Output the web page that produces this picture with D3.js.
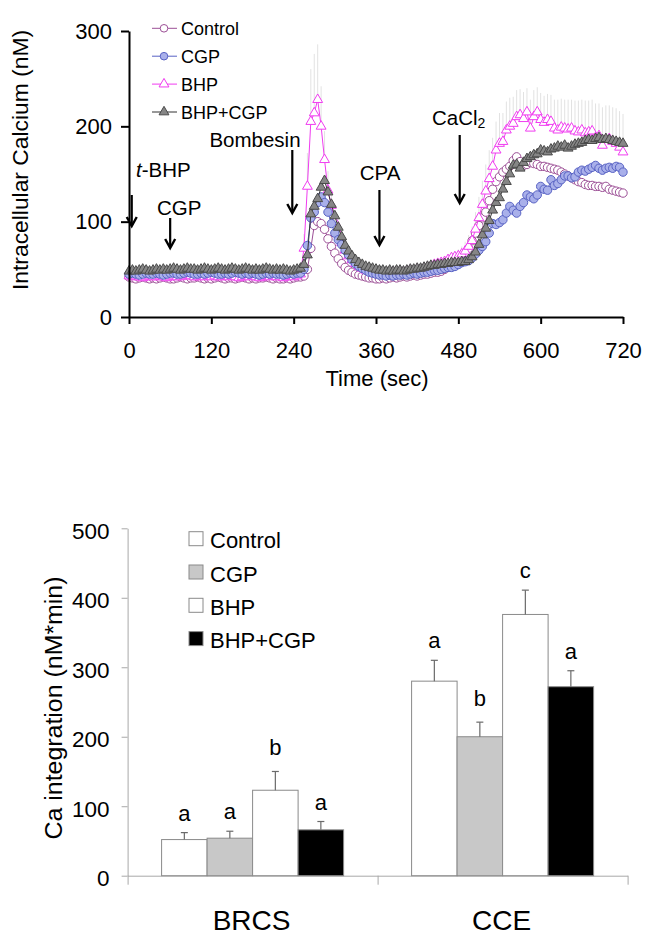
<!DOCTYPE html>
<html><head><meta charset="utf-8">
<script src="https://cdn.jsdelivr.net/npm/d3@7"></script>
<style>
body{margin:0;background:#fff;}
svg text{font-family:"Liberation Sans",Arial,Helvetica,sans-serif;fill:#000;}
</style>
</head><body>
<svg id="c" width="653" height="941"></svg>
<script>
// ---------------- DATA: time course (sampled every 5 s, 0..720 s) ----------------
const seriesNames = ["Control", "CGP", "BHP", "BHP+CGP"];
const sampleStep = 5;
const timeTicks = [0, 120, 240, 360, 480, 600, 720];
const calciumTicks = [0, 100, 200, 300];

const controlCa = [
42,41,40,41,42,41,40,41,40,41, 42,41,40,40,41,42,41,40,41,41,
42,41,40,41,40,41,42,41,40,41, 41,40,41,42,41,40,41,40,41,41,
42,41,40,41,40,40,41,40,41,42,
42,43,50,72,96,100,98,92,82,74,
67,61,56,52,49,47,45,44,43,42,
41,41,40,40,41,40,41,42,41,42,
43,42,43,44,43,44,45,45,46,47,
47,48,50,52,54,57,60,63,66,72,
80,88,96,104,110,122,134,142,147,152,
155,158,164,168,163,159,160,162,161,160,
158,158,157,156,155,154,152,150,148,146,
144,142,141,139,138,138,137,137,136,137,
134,133,132,131,130];

const cgpCa = [
45,46,45,44,45,46,45,45,46,45, 44,45,46,46,45,45,46,47,46,45,
45,46,45,46,47,46,45,45,46,45, 46,47,46,45,46,45,46,45,44,45,
46,45,46,45,45,44,45,46,45,46,
46,50,75,104,110,120,126,120,110,98,
88,81,76,70,65,60,56,53,51,49,
47,46,45,44,44,43,44,43,44,44,
45,44,45,46,45,46,47,47,48,49,
49,50,51,52,52,53,55,57,58,59,
62,66,70,74,79,88,98,97,99,102,
109,116,112,109,116,120,128,126,124,128,
137,134,133,144,138,140,144,148,148,146,
147,152,154,153,155,157,159,156,154,156,
157,156,158,157,152];

const bhpCa = [
43,42,43,42,41,42,43,42,42,43, 42,41,42,43,42,42,43,44,43,42,
42,43,42,43,42,43,42,42,43,42, 43,42,41,42,43,42,43,42,41,42,
43,42,43,42,42,41,42,43,42,43,
45,72,137,205,214,228,200,165,133,117,
100,88,78,70,64,60,56,53,51,49,
48,47,46,45,46,45,46,47,46,48,
47,48,49,48,50,49,51,52,53,55,
56,57,58,60,62,63,64,66,69,74,
80,92,104,118,132,145,158,175,182,184,
196,200,203,210,212,208,215,198,210,215,
207,204,207,205,198,196,199,198,197,198,
195,194,196,193,194,195,188,190,180,186,
187,184,182,178,173];

const bhpCgpCa = [
48,49,48,49,50,49,48,49,50,49, 50,49,50,51,50,49,50,51,50,50,
49,50,51,50,49,50,51,50,49,50, 51,50,49,50,51,50,49,50,49,50,
51,50,49,50,49,50,49,48,49,50,
51,55,65,108,116,124,136,143,131,118,
106,94,84,75,69,64,60,57,55,53,
52,51,50,49,49,48,49,48,49,49,
48,49,50,50,51,51,52,53,54,54,
55,55,56,56,57,57,57,58,58,60,
63,68,76,86,93,101,112,120,125,134,
142,150,159,160,156,162,166,168,170,171,
175,174,173,176,177,179,178,180,177,179,
181,182,183,185,186,185,187,188,186,187,
186,185,184,183,182];

// upper error (SEM) of the BHP trace
const bhpErr = [
2,2,2,2,2,2,2,2,2,2, 2,2,2,2,2,2,2,2,2,2,
2,2,2,2,2,2,2,2,2,2, 2,2,2,2,2,2,2,2,2,2,
2,2,2,2,2,2,2,2,2,2,
4,15,35,55,62,58,42,30,20,15,
12,10,8,7,6,5,5,5,4,4,
4,4,4,4,4,4,4,4,4,4,
4,4,4,4,4,4,4,4,5,5,
5,5,5,6,6,6,7,8,10,12,
15,18,22,25,28,30,30,30,32,30,
30,30,28,28,27,28,25,30,28,26,
28,28,27,28,30,32,30,30,31,30,
32,33,32,34,33,33,36,34,40,36,
35,36,37,38,40];

// treatment events (s)
const eventLabels = ["t-BHP", "CGP", "Bombesin", "CPA", "CaCl2"];
const eventTimes  = [4, 60, 238, 365, 482];

// ---------------- DATA: integration bar chart ----------------
const barCategories = ["BRCS", "CCE"];
const barGroups = ["Control", "CGP", "BHP", "BHP+CGP"];
const brcsMeans = [52, 54, 123, 66];
const brcsErr   = [10, 10, 27, 12];
const cceMeans  = [280, 200, 376, 272];
const cceErr    = [30, 21, 35, 23];
const brcsLetters = ["a", "a", "b", "a"];
const cceLetters  = ["a", "b", "c", "a"];
const integrationTicks = [0, 100, 200, 300, 400, 500];

// ---------------- drawing ----------------
const FONT = '"Liberation Sans",Arial,Helvetica,sans-serif';
const svg = d3.select("#c");

const styles = {
  "Control": {shape: "circle", fill: "#ffffff", stroke: "#9c4f96", line: "#9c4f96"},
  "CGP":     {shape: "circle", fill: "#a9b0ea", stroke: "#5862c4", line: "#5862c4"},
  "BHP":     {shape: "triangle", fill: "#ffffff", stroke: "#f03cf0", line: "#f03cf0"},
  "BHP+CGP": {shape: "triangle", fill: "#868686", stroke: "#4a4a4a", line: "#333333"}
};

// ---- top chart ----
const xT = d3.scaleLinear().domain([0, 720]).range([129, 623]);
const yT = d3.scaleLinear().domain([0, 300]).range([317, 31]);

const seriesData = [controlCa, cgpCa, bhpCa, bhpCgpCa].map(arr => arr.map((v, i) => ({t: i * sampleStep, v})));
const bhpPoints = bhpCa.map((v, i) => ({t: i * sampleStep, v, e: bhpErr[i]}));

// error bars
svg.append("g").selectAll("line").data(bhpPoints).join("line")
  .attr("x1", d => xT(d.t)).attr("x2", d => xT(d.t))
  .attr("y1", d => yT(d.v)).attr("y2", d => yT(d.v + d.e))
  .attr("stroke", "#e2e2e2").attr("stroke-width", 1);

const triSym = d3.symbol().type(d3.symbolTriangle).size(42);
const line = d3.line().x(d => xT(d.t)).y(d => yT(d.v));

function drawMarker(sel, st, r) {
  if (st.shape === "circle") {
    sel.append("circle").attr("r", r || 4.2)
      .attr("fill", st.fill).attr("stroke", st.stroke).attr("stroke-width", 1);
  } else {
    sel.append("path").attr("d", triSym)
      .attr("fill", st.fill).attr("stroke", st.stroke).attr("stroke-width", 1);
  }
}

const drawOrder = [0, 2, 1, 3];
drawOrder.forEach(k => {
  const st = styles[seriesNames[k]];
  const g = svg.append("g");
  g.append("path").datum(seriesData[k]).attr("d", line)
    .attr("fill", "none").attr("stroke", st.line).attr("stroke-width", 1);
  g.selectAll("g.m").data(seriesData[k]).join("g").attr("class", "m")
    .attr("transform", d => `translate(${xT(d.t)},${yT(d.v)})`)
    .each(function () { drawMarker(d3.select(this), st); });
});

// axes
const gxT = svg.append("g").attr("transform", "translate(0,317)")
  .call(d3.axisBottom(xT).tickValues(timeTicks).tickSize(7).tickSizeOuter(0).tickPadding(18));
const gyT = svg.append("g").attr("transform", "translate(129,0)")
  .call(d3.axisLeft(yT).tickValues(calciumTicks).tickSize(8).tickSizeOuter(0).tickPadding(9));
[gxT, gyT].forEach(g => {
  g.attr("font-family", FONT).attr("font-size", 22);
  g.select(".domain").attr("stroke", "#000").attr("stroke-width", 2);
  g.selectAll(".tick line").attr("stroke", "#000").attr("stroke-width", 2);
  g.selectAll(".tick text").attr("fill", "#000");
});

svg.append("text").attr("x", 377).attr("y", 386).attr("text-anchor", "middle")
  .attr("font-size", 22).text("Time (sec)");
svg.append("text").attr("transform", "translate(28,160) rotate(-90)").attr("text-anchor", "middle")
  .attr("font-size", 22).attr("textLength", 260).attr("lengthAdjust", "spacingAndGlyphs")
  .text("Intracellular Calcium (nM)");

// legend (top)
seriesNames.forEach((name, i) => {
  const st = styles[name];
  const y = 28.3 + i * 27.9;
  const g = svg.append("g");
  g.append("line").attr("x1", 152).attr("x2", 177).attr("y1", y).attr("y2", y)
    .attr("stroke", st.line).attr("stroke-width", 1);
  const m = g.append("g").attr("transform", `translate(164,${y})`);
  drawMarker(m, st, 3.8);
  g.append("text").attr("x", 181).attr("y", y + 6.5).attr("font-size", 18).text(name);
});

// event annotations
const annot = [
  {tx: 136, ty: 177, anchor: "start", y1: 195, y2: 226},
  {tx: 157, ty: 215, anchor: "start", y1: 218, y2: 248},
  {tx: 255, ty: 147, anchor: "middle", y1: 150, y2: 213},
  {tx: 380, ty: 180, anchor: "middle", y1: 190, y2: 245},
  {tx: 432, ty: 125, anchor: "start", y1: 135, y2: 203}
];
eventLabels.forEach((lab, i) => {
  const a = annot[i];
  const t = svg.append("text").attr("x", a.tx).attr("y", a.ty).attr("text-anchor", a.anchor).attr("font-size", 20.5);
  if (lab === "t-BHP") {
    t.append("tspan").attr("font-style", "italic").text("t");
    t.append("tspan").text("-BHP");
  } else if (lab === "CaCl2") {
    t.append("tspan").text("CaCl");
    t.append("tspan").attr("font-size", 14).attr("dy", 3).text("2");
  } else t.text(lab);
  const x = xT(eventTimes[i]);
  svg.append("line").attr("x1", x).attr("x2", x).attr("y1", a.y1).attr("y2", a.y2 - 1)
    .attr("stroke", "#000").attr("stroke-width", 2.2);
  svg.append("path").attr("d", `M${x - 5},${a.y2 - 9}L${x},${a.y2}L${x + 5},${a.y2 - 9}`)
    .attr("fill", "none").attr("stroke", "#000").attr("stroke-width", 2.4);
});

// ---- bottom chart ----
const x0 = d3.scaleBand().domain(barCategories).range([127.6, 627.6]);
const x1 = d3.scaleBand().domain(barGroups).range([0, x0.bandwidth()]).paddingOuter(0.747);
const yB = d3.scaleLinear().domain([0, 500]).range([875.7, 528.3]);
const fills = {"Control": "#ffffff", "CGP": "#c8c8c8", "BHP": "#ffffff", "BHP+CGP": "#000000"};

const barData = [];
barCategories.forEach((c, ci) => {
  const means = ci === 0 ? brcsMeans : cceMeans;
  const errs = ci === 0 ? brcsErr : cceErr;
  const lets = ci === 0 ? brcsLetters : cceLetters;
  barGroups.forEach((g, gi) => barData.push({c, g, v: means[gi], e: errs[gi], l: lets[gi]}));
});

// axes
const gyB = svg.append("g").attr("transform", "translate(127.6,0)")
  .call(d3.axisLeft(yB).tickValues(integrationTicks).tickSize(6).tickSizeOuter(0).tickPadding(12));
gyB.attr("font-family", FONT).attr("font-size", 22.5);
gyB.select(".domain").attr("stroke", "#a8a8a8").attr("stroke-width", 1);
gyB.selectAll(".tick line").attr("stroke", "#a8a8a8");
gyB.selectAll(".tick text").attr("fill", "#000").attr("dy", "0.45em");

const catEdge = d3.scaleLinear().domain([0, 2]).range(x0.range());
const gxB = svg.append("g").attr("transform", `translate(0,${yB(0)})`)
  .call(d3.axisBottom(catEdge).tickValues([0, 1, 2]).tickFormat("").tickSize(9).tickSizeOuter(0));
gxB.select(".domain").attr("stroke", "#a8a8a8").attr("stroke-width", 1);
gxB.selectAll(".tick line").attr("stroke", "#a8a8a8");

// bars
const bg = svg.append("g");
bg.selectAll("rect").data(barData).join("rect")
  .attr("x", d => x0(d.c) + x1(d.g)).attr("width", x1.bandwidth())
  .attr("y", d => yB(d.v)).attr("height", d => yB(0) - yB(d.v))
  .attr("fill", d => fills[d.g]).attr("stroke", "#8a8a8a").attr("stroke-width", 1);
// error bars
const eb = svg.append("g").attr("stroke", "#6a6a6a").attr("stroke-width", 1.2);
barData.forEach(d => {
  const cx = x0(d.c) + x1(d.g) + x1.bandwidth() / 2;
  eb.append("line").attr("x1", cx).attr("x2", cx).attr("y1", yB(d.v)).attr("y2", yB(d.v + d.e));
  eb.append("line").attr("x1", cx - 3.5).attr("x2", cx + 3.5).attr("y1", yB(d.v + d.e)).attr("y2", yB(d.v + d.e));
});
// significance letters
svg.append("g").selectAll("text").data(barData).join("text")
  .attr("x", d => x0(d.c) + x1(d.g) + x1.bandwidth() / 2)
  .attr("y", d => yB(d.v + d.e) - (d.l === "b" ? 16 : 12))
  .attr("text-anchor", "middle").attr("font-size", 22).text(d => d.l);

// category labels
svg.append("g").selectAll("text").data(barCategories).join("text")
  .attr("x", d => x0(d) + x0.bandwidth() / 2 - 1).attr("y", 930)
  .attr("text-anchor", "middle").attr("font-size", 28).text(d => d);

svg.append("text").attr("transform", "translate(62,708) rotate(-90)").attr("text-anchor", "middle")
  .attr("font-size", 23).attr("textLength", 263).attr("lengthAdjust", "spacingAndGlyphs")
  .text("Ca integration (nM*min)");

// legend (bottom)
barGroups.forEach((g, i) => {
  const top = 531.7 + i * 33.3;
  svg.append("rect").attr("x", 189).attr("y", top).attr("width", 14).attr("height", 14)
    .attr("fill", fills[g]).attr("stroke", "#8a8a8a").attr("stroke-width", 1);
  svg.append("text").attr("x", 210).attr("y", top + 16.7).attr("font-size", 22).text(g);
});
</script>
</body></html>
